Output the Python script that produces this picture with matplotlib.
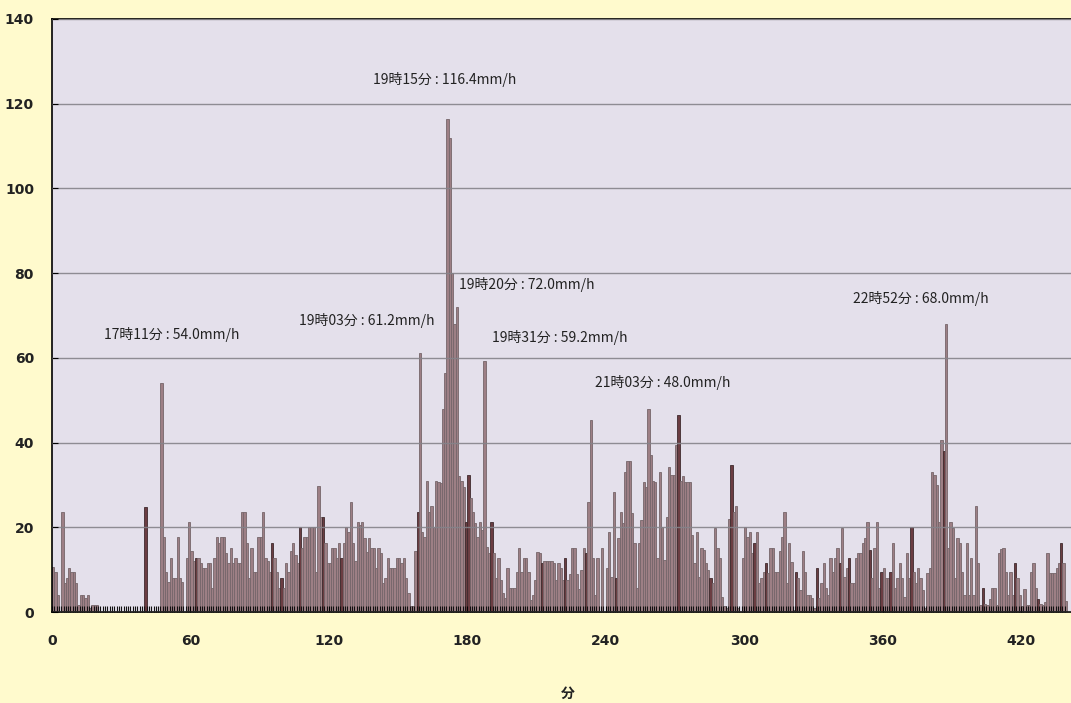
import matplotlib.pyplot as plt
import numpy as np

# 1分ごとの雨量強度 (mm/h)
rain = [
    10.7, 9.5, 4, 0, 23.7, 6.8, 8, 10.3, 9.5, 9.5,
    6.8, 1.6, 4, 4, 3.2, 4, 1, 1.6, 1.6, 1.6,
    0, 0, 0, 0, 0, 0, 0, 0, 0, 0,
    0, 0, 0, 0, 0, 0, 0, 0, 0, 0,
    24.9, 0, 0, 0, 0, 0, 0, 54, 17.6, 9.5,
    7, 12.7, 8, 8, 17.6, 8, 7, 0, 12.7, 21.3,
    14.5, 12, 12.7, 12.7, 11.5, 10.3, 10.3, 11.6, 11.6, 5.6,
    12.7, 17.6, 16.2, 17.6, 17.6, 14, 11.6, 15, 11.6, 12.7,
    11.6, 11.6, 23.7, 23.7, 16.2, 8, 15, 9.5, 9.5, 17.6,
    17.6, 23.7, 12.7, 12, 9.5, 16.4, 12.7, 9.5, 5.6, 8,
    5.6, 11.6, 9.5, 14.5, 16.4, 13.5, 11.6, 20, 15, 17.6,
    17.6, 20, 20, 20, 9.5, 29.8, 22.4, 22.4, 16.2, 11.6,
    11.6, 15, 15, 12.7, 16.2, 12.7, 16.2, 20, 19, 26,
    16.2, 12, 21.3, 20.5, 21.3, 17.4, 14.2, 17.4, 15, 15,
    10.3, 15, 13.9, 6.8, 8, 12.7, 10.3, 10.3, 10.3, 12.7,
    12.7, 11.5, 12.7, 8, 4.4, 1.3, 1.3, 14.3, 23.7, 61.2,
    19, 17.8, 31, 23.7, 25, 20, 31, 30.8, 30.4, 48,
    56.4, 116.4, 112, 80, 68, 72, 32, 31, 29.6, 21.3,
    32.4, 27, 23.7, 21, 17.8, 21.3, 19.4, 59.2, 15.4, 14,
    21.3, 13.9, 8, 12.7, 7.6, 4.4, 3.2, 10.3, 5.6, 5.6,
    5.6, 9.5, 15, 9.5, 12.7, 12.7, 9.5, 2.8, 4, 7.6,
    14.2, 13.9, 11.5, 12, 12, 12, 12, 11.6, 7.6, 11.6,
    10.3, 7.6, 12.7, 7.6, 9, 15, 15, 9, 5.4, 10,
    15, 14, 26, 45.4, 12.7, 4, 12.7, 0, 15, 0,
    10.3, 19, 8.3, 28.4, 8, 17.4, 23.7, 21, 33, 35.7,
    35.7, 23.3, 16.4, 5.6, 16.4, 21.7, 30.8, 29.6, 48, 37,
    31, 30.8, 12.7, 33, 20, 12.3, 22.5, 34.3, 32.4, 32.4,
    39.4, 46.5, 31, 32, 30.8, 30.6, 30.6, 18.2, 11.5, 19,
    8.3, 15, 14.6, 11.5, 10, 8, 6.8, 19.8, 15, 12.7,
    3.6, 1.3, 1, 22, 34.7, 23.5, 25, 1, 0, 12.7,
    20, 17.8, 19, 13.9, 16.2, 19, 6.8, 8, 9.5, 11.5,
    9.1, 15, 15, 9.5, 9.5, 14.3, 17.8, 23.7, 6.8, 16.4,
    11.9, 0.5, 9.5, 8, 5.2, 14.3, 9.5, 4, 4, 3.2,
    1, 10.3, 3.2, 6.8, 11.5, 5.6, 4, 12.7, 9.5, 12.7,
    15, 11.6, 19.8, 8.3, 10.3, 12.7, 6.8, 6.8, 12.7, 14,
    14, 16.2, 17.4, 21.3, 14.6, 8, 15, 21.3, 5.6, 9.5,
    10.3, 8, 8, 9.5, 16.2, 5.6, 8, 11.5, 8, 3.6,
    14, 8, 20, 9.5, 6.8, 10.5, 8, 5.2, 1, 9.3,
    10.5, 33, 32.4, 30, 21.3, 40.5, 37.9, 68, 15, 21.3,
    19.8, 8, 17.4, 16.2, 9.5, 4, 16.2, 4, 12.7, 4,
    25, 11.5, 1.6, 5.6, 2, 1.6, 3, 5.6, 5.6, 1.6,
    14, 14.8, 15, 9.5, 4, 9.5, 4, 11.5, 8, 4,
    1.3, 5.4, 1.6, 1.6, 9.5, 11.5, 5.6, 3, 2, 1.6,
    2.4, 14, 9.1, 9.1, 9.1, 10.3, 11.5, 16.4, 11.5, 2.7,
]
minutes = np.arange(len(rain))

# 濃い色で描かれている棒
dark = [40, 62, 95, 99, 107, 117, 125, 158, 179, 180, 190, 212, 222, 231,
        244, 271, 285, 294, 304, 309, 322, 331, 341, 345, 354, 359, 363,
        372, 386, 403, 417, 427, 437]

labels = [
    (51.7, 65.6, '17時11分 : 54.0mm/h'),
    (136.5, 68.9, '19時03分 : 61.2mm/h'),
    (170.0, 125.8, '19時15分 : 116.4mm/h'),
    (206.0, 77.4, '19時20分 : 72.0mm/h'),
    (220.0, 64.9, '19時31分 : 59.2mm/h'),
    (264.5, 54.1, '21時03分 : 48.0mm/h'),
    (376.5, 73.9, '22時52分 : 68.0mm/h'),
]

xticks = [0, 60, 120, 180, 240, 300, 360, 420]
yticks = [0, 20, 40, 60, 80, 100, 120, 140]

num_font = ['Liberation Sans Narrow', 'DejaVu Sans Condensed', 'DejaVu Sans']
jp_font = ['Noto Sans CJK JP', 'DejaVu Sans']

fig = plt.figure(figsize=(10.71, 7.03), dpi=100, facecolor='#fffacd')
ax = fig.add_axes([52/1071, 91/703, 1 - 52/1071, 593/703])
ax.set_facecolor('#e4e0eb')
ax.set_axisbelow(False)

face = ['#6b3d42' if i in dark else '#9d7f85' for i in minutes]
edge = ['#3e2a2d' if i in dark else '#75666a' for i in minutes]
ax.bar(minutes, rain, width=1.0, align='edge', color=face, edgecolor=edge,
       linewidth=0.6, zorder=2)

for x, y, s in labels:
    ax.text(x, y, s, ha='center', va='center', fontsize=10,
            family=jp_font, color='#222222', zorder=4)

ax.set_xlim(0, (1071 - 52) / 2.307)
ax.set_ylim(0, 140)
ax.set_xticks(xticks)
ax.set_yticks(yticks)
ax.set_xticks(minutes, minor=True)
ax.grid(axis='y', color='#85838a', lw=1.0, alpha=0.9)
ax.tick_params(axis='x', which='minor', direction='in', length=4, width=0.8, color='#111111')
ax.tick_params(axis='x', which='major', direction='in', length=4, pad=16)
ax.tick_params(axis='y', direction='in', length=4, pad=13)
for lab in ax.get_xticklabels() + ax.get_yticklabels():
    lab.set_family(num_font)
    lab.set_fontweight('bold')
    lab.set_fontsize(10)
    lab.set_color('#222222')

for side in ['left', 'top', 'bottom']:
    ax.spines[side].set_color('black')
    ax.spines[side].set_linewidth(1.2)
ax.spines['right'].set_visible(False)

fig.text(568/1071, 1 - 694/703, '分', ha='center', va='center', fontsize=10,
         fontweight='bold', family=jp_font, color='#222222')

fig.savefig('out.png', dpi=100, facecolor=fig.get_facecolor())
